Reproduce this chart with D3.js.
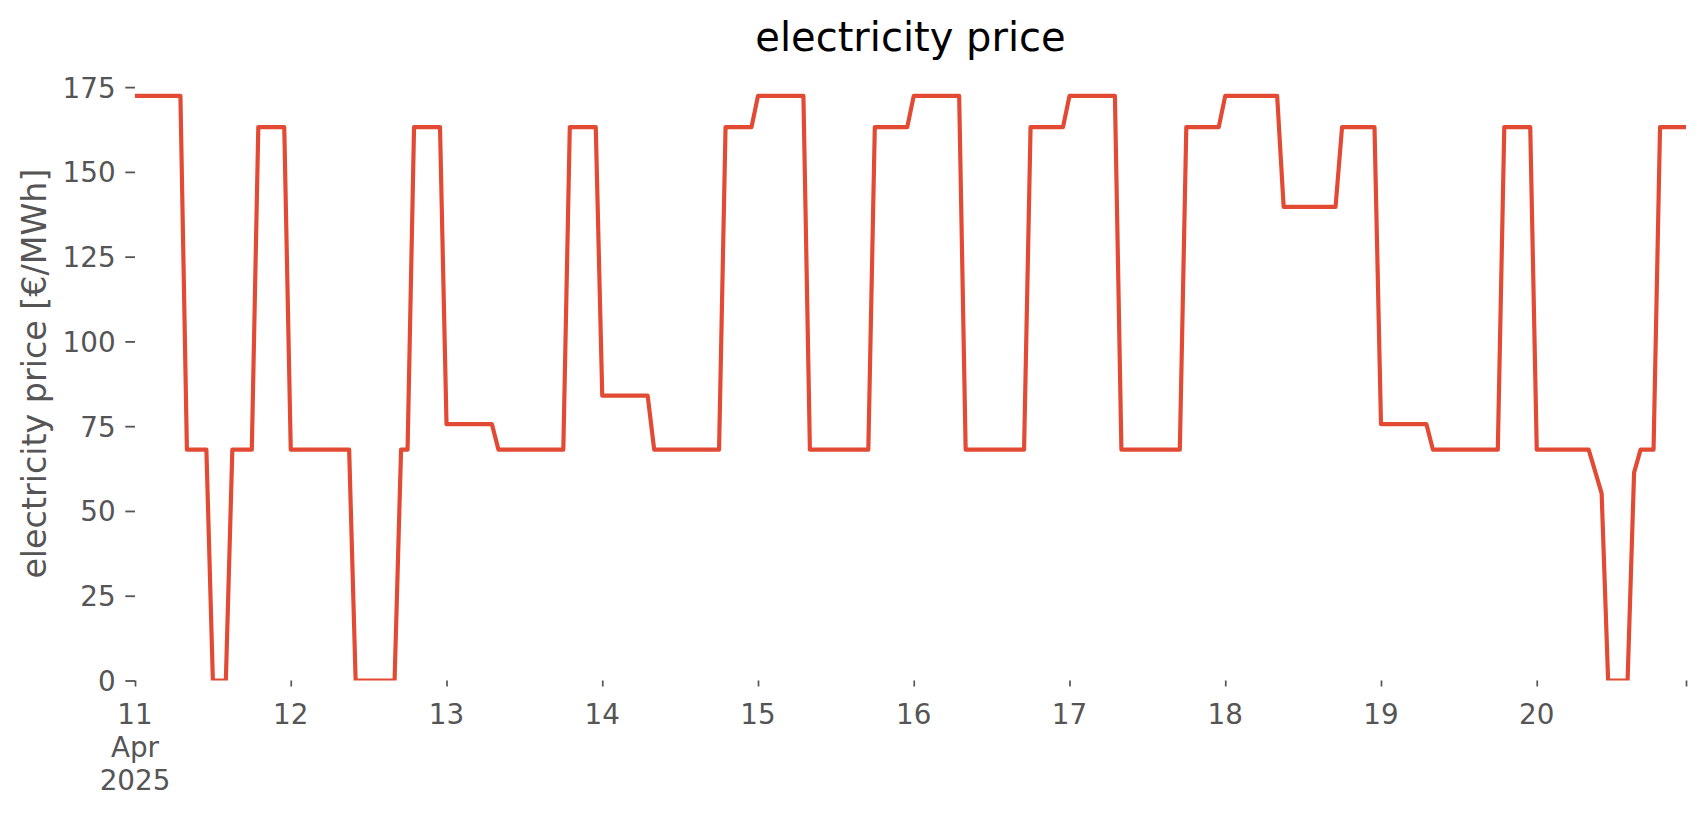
<!DOCTYPE html>
<html>
<head>
<meta charset="utf-8">
<script src="https://cdn.jsdelivr.net/npm/d3@7"></script>
<style>
  html, body { margin: 0; padding: 0; background: #ffffff; }
  svg { display: block; font-family: "DejaVu Sans", sans-serif; }
</style>
</head>
<body>
<svg id="chart" width="1706" height="815"></svg>
<script>
// ---------------- data (hourly electricity price, €/MWh) ----------------
const startTime = "2025-04-11T00:00:00Z";
const price_apr11 = [172.4,172.4,172.4,172.4,172.4,172.4,172.4,172.4,68.1,68.1,68.1,68.1,0,0,0,68.1,68.1,68.1,68.1,163.2,163.2,163.2,163.2,163.2];
const price_apr12 = [68.1,68.1,68.1,68.1,68.1,68.1,68.1,68.1,68.1,68.1,0,0,0,0,0,0,0,68.1,68.1,163.2,163.2,163.2,163.2,163.2];
const price_apr13 = [75.6,75.6,75.6,75.6,75.6,75.6,75.6,75.6,68.1,68.1,68.1,68.1,68.1,68.1,68.1,68.1,68.1,68.1,68.1,163.2,163.2,163.2,163.2,163.2];
const price_apr14 = [84.0,84.0,84.0,84.0,84.0,84.0,84.0,84.0,68.1,68.1,68.1,68.1,68.1,68.1,68.1,68.1,68.1,68.1,68.1,163.2,163.2,163.2,163.2,163.2];
const price_apr15 = [172.4,172.4,172.4,172.4,172.4,172.4,172.4,172.4,68.1,68.1,68.1,68.1,68.1,68.1,68.1,68.1,68.1,68.1,163.2,163.2,163.2,163.2,163.2,163.2];
const price_apr16 = [172.4,172.4,172.4,172.4,172.4,172.4,172.4,172.4,68.1,68.1,68.1,68.1,68.1,68.1,68.1,68.1,68.1,68.1,163.2,163.2,163.2,163.2,163.2,163.2];
const price_apr17 = [172.4,172.4,172.4,172.4,172.4,172.4,172.4,172.4,68.1,68.1,68.1,68.1,68.1,68.1,68.1,68.1,68.1,68.1,163.2,163.2,163.2,163.2,163.2,163.2];
const price_apr18 = [172.4,172.4,172.4,172.4,172.4,172.4,172.4,172.4,172.4,139.7,139.7,139.7,139.7,139.7,139.7,139.7,139.7,139.7,163.2,163.2,163.2,163.2,163.2,163.2];
const price_apr19 = [75.6,75.6,75.6,75.6,75.6,75.6,75.6,75.6,68.1,68.1,68.1,68.1,68.1,68.1,68.1,68.1,68.1,68.1,68.1,163.2,163.2,163.2,163.2,163.2];
const price_apr20 = [68.1,68.1,68.1,68.1,68.1,68.1,68.1,68.1,68.1,61.7,55.2,0,0,0,0,61.3,68.1,68.1,68.1,163.2,163.2,163.2,163.2,163.2];

const dayTickLabels = ["11", "12", "13", "14", "15", "16", "17", "18", "19", "20"];
const firstTickExtra = ["Apr", "2025"];
const yTickValues = [0, 25, 50, 75, 100, 125, 150, 175];

const titleText = "electricity price";
const yLabelText = "electricity price [€/MWh]";

// ---------------- build series ----------------
const prices = [].concat(price_apr11, price_apr12, price_apr13, price_apr14, price_apr15,
                         price_apr16, price_apr17, price_apr18, price_apr19, price_apr20);
const t0 = new Date(startTime);
const series = prices.map((v, i) => ({ t: new Date(t0.getTime() + i * 3600e3), v: v }));

// ---------------- layout ----------------
const axLeft = 135, axRight = 1686, axBottom = 680.5, axTop = 66.7;
const svg = d3.select("#chart");

const x = d3.scaleUtc()
  .domain(d3.extent(series, d => d.t))
  .range([axLeft, axRight]);

const vmin = 0, vmax = d3.max(prices);
const y = d3.scaleLinear()
  .domain([vmin, vmax + 0.05 * (vmax - vmin)])
  .range([axBottom, axTop]);

const tickColor = "#555555";
const tickFont = 27.8;

// clip to axes area
svg.append("defs").append("clipPath").attr("id", "axclip")
  .append("rect").attr("x", axLeft).attr("y", axTop)
  .attr("width", axRight - axLeft).attr("height", axBottom - axTop);

// ---------------- y axis ----------------
const yAxis = d3.axisLeft(y).tickValues(yTickValues).tickSize(9.7).tickPadding(9.7)
  .tickFormat(d3.format("d"));
const gy = svg.append("g").attr("transform", `translate(${axLeft},0)`).call(yAxis);
gy.select(".domain").remove();
gy.selectAll(".tick line").attr("stroke", tickColor).attr("stroke-width", 1.8);
gy.selectAll(".tick text").attr("fill", tickColor).attr("font-size", tickFont)
  .attr("font-family", "DejaVu Sans").attr("dy", "0.36em");

// ---------------- x axis ----------------
const dayTicks = dayTickLabels.map((s, i) => new Date(t0.getTime() + i * 86400e3));
const endTick = series[series.length - 1].t;
const xAxis = d3.axisBottom(x).tickValues(dayTicks.concat([endTick])).tickSize(6).tickPadding(9.7)
  .tickFormat(() => "");
const gx = svg.append("g").attr("transform", `translate(0,${axBottom})`).call(xAxis);
gx.select(".domain").remove();
gx.selectAll(".tick line").attr("stroke", tickColor).attr("stroke-width", 1.7);
gx.selectAll(".tick text").remove();

const xl = svg.append("g");
dayTicks.forEach((d, i) => {
  const t = xl.append("text")
    .attr("x", x(d)).attr("y", 724)
    .attr("text-anchor", "middle")
    .attr("fill", tickColor).attr("font-size", tickFont)
    .attr("font-family", "DejaVu Sans");
  t.append("tspan").attr("x", x(d)).attr("y", 724).text(dayTickLabels[i]);
  if (i === 0) {
    firstTickExtra.forEach((s, k) => {
      t.append("tspan").attr("x", x(d)).attr("y", 757 + k * 33).text(s);
    });
  }
});

// ---------------- line ----------------
const line = d3.line().x(d => x(d.t)).y(d => y(d.v));
svg.append("path")
  .datum(series)
  .attr("clip-path", "url(#axclip)")
  .attr("fill", "none")
  .attr("stroke", "#E24A33")
  .attr("stroke-width", 4.17)
  .attr("stroke-linejoin", "round")
  .attr("d", line);

// ---------------- title & labels ----------------
svg.append("text")
  .attr("x", (axLeft + axRight) / 2).attr("y", 51)
  .attr("text-anchor", "middle")
  .attr("font-size", 40).attr("fill", "#000000")
  .attr("font-family", "DejaVu Sans")
  .text(titleText);

svg.append("text")
  .attr("transform", `translate(46,${(axTop + axBottom) / 2}) rotate(-90)`)
  .attr("text-anchor", "middle")
  .attr("font-size", 33.3).attr("fill", tickColor)
  .attr("font-family", "DejaVu Sans")
  .text(yLabelText);
</script>
</body>
</html>
